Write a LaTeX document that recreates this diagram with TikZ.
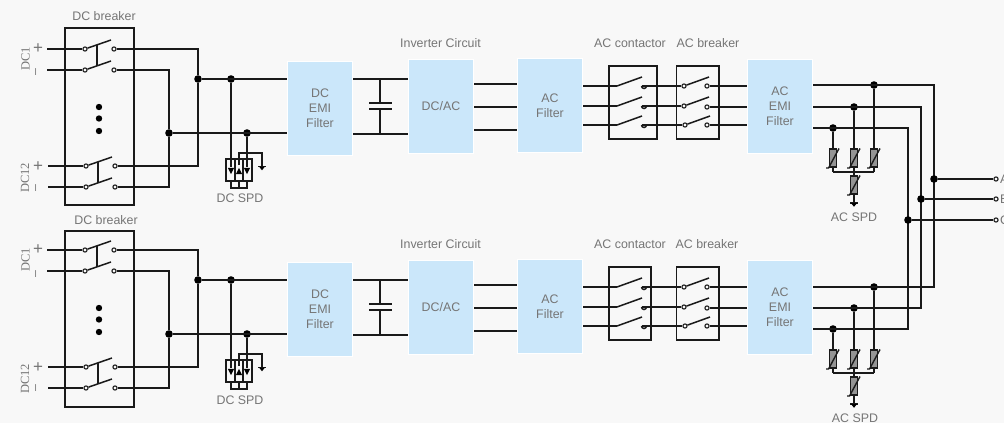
\documentclass[tikz,border=0pt]{standalone}
\usepackage{fontspec}
\setmainfont{Liberation Sans}
\newfontfamily\serifface{Liberation Serif}
\definecolor{pagebg}{HTML}{F8F8F8}
\definecolor{boxblue}{HTML}{CBE7FA}
\definecolor{labelgray}{HTML}{757575}
\definecolor{wirecol}{HTML}{1A1A1A}
\tikzset{
  wire/.style={draw=wirecol,line width=1.5pt,line join=miter},
  frame/.style={draw=wirecol,line width=1.4pt,fill=none,rectangle,inner sep=0pt},
  filterbox/.style={rectangle,fill=boxblue,draw=white,line width=1pt,minimum width=65pt,minimum height=94pt,
    inner sep=0pt,align=center,text=labelgray,font=\fontsize{12.4}{15}\selectfont},
  lbl/.style={text=labelgray,inner sep=0pt,font=\fontsize{12.4}{15}\selectfont},
  dclbl/.style={text=labelgray,inner sep=0pt,rotate=90,font=\fontsize{12.5}{15}\serifface},
  plbl/.style={text=labelgray,inner sep=0pt,font=\fontsize{17}{15}\selectfont},
  term/.style={circle,draw=wirecol,fill=pagebg,line width=1.1pt,minimum size=4.2pt,inner sep=0pt},
  jdot/.style={circle,fill=black,draw=none,minimum size=7.6pt,inner sep=0pt},
  smalldot/.style={circle,fill=black,draw=none,minimum size=6.4pt,inner sep=0pt},
  varistor/.pic={
    \fill[fill=black!42,draw=wirecol,line width=1.1pt] (-3.2,-9) rectangle (3.2,9);
    \draw[draw=wirecol,line width=1.4pt] (-7,10) -- (-4.5,10) -- (6,-9.5);
  },
  gndmark/.pic={
    \draw[draw=wirecol,line width=1.3pt] (-4,0) -- (4,0);
    \fill[black] (-3,0) -- (3,0) -- (0,3.8) -- cycle;
  },
  downtri/.pic={\fill[black] (-3.2,-3.2) -- (3.2,-3.2) -- (0,3.2) -- cycle;},
  uptri/.pic={\fill[black] (-3.2,3.2) -- (3.2,3.2) -- (0,-3.2) -- cycle;},
}
% DC pole: name, x nudge, row y
\newcommand{\dcpole}[3]{%
  \coordinate (#1I) at (47+#2,#3);
  \node[term] (#1L) at (85+#2,#3) {};
  \node[term] (#1R) at (114+#2,#3) {};
  \coordinate (#1B) at (111+#2,#3-9);
  \draw[wire] (#1I) -- (#1L);
  \draw[wire] (#1L) -- (#1B);
}
% AC pole: name, row y, breaker x nudge, blade x nudge
\newcommand{\acpole}[4]{%
  \coordinate (#1C) at (617,#2);
  \coordinate (#1D) at (642,#2-9);
  \coordinate (#1E) at (641.5,#2);
  \node[term] (#1L) at (684+#3,#2) {};
  \node[term] (#1R) at (707,#2+#4) {};
  \coordinate (#1B) at (709+#3,#2-9);
  \draw[wire] (#1E) arc[start angle=180,end angle=0,radius=2.5];
  \draw[wire] (#1E) -- (#1L);
  \draw[wire] (#1L) -- (#1B);
  \draw[wire] (#1C) -- (#1D);
}
% one inverter chain: prefix, shift, breaker box top, bottom, contactor right edge, first AC output row
\newcommand{\chain}[6]{%
\begin{scope}[yshift=-#2pt]
  % DC breaker
  \node[frame,minimum width=69pt,minimum height=#4-#3] (#1dcb) at (99.5,#3/2+#4/2) {};
  \dcpole{#1a}{0}{49}
  \dcpole{#1b}{0}{70}
  \dcpole{#1c}{1}{166}
  \dcpole{#1d}{1}{187}
  \coordinate (#1ku) at (97,45);
  \coordinate (#1kv) at (97,66);
  \coordinate (#1ks) at (98,162);
  \coordinate (#1kt) at (98,183);
  \draw[wire] (#1ku) -- (#1kv);
  \draw[wire] (#1ks) -- (#1kt);
  \node[smalldot] (#1e1) at (99,107) {};
  \node[smalldot] (#1e2) at (99,118.5) {};
  \node[smalldot] (#1e3) at (99,131) {};
  % filters
  \node[filterbox] (#1emi) at (320,108.5) {DC\\EMI\\Filter};
  \node[filterbox] (#1inv) at (441,106.5) {DC/AC};
  \node[filterbox] (#1acf) at (550,105.5) {AC\\Filter};
  \node[filterbox] (#1aem) at (780,106.5) {AC\\EMI\\Filter};
  % DC bus
  \node[jdot] (#1jp) at (198,79) {};
  \node[jdot] (#1jn) at (169,133) {};
  \node[jdot] (#1js) at (231,79) {};
  \node[jdot] (#1jt) at (247,133) {};
  \draw[wire] (#1aR) -| (#1jp);
  \draw[wire] (#1cR) -| (#1jp);
  \draw[wire] (#1bR) -| (#1jn);
  \draw[wire] (#1dR) -| (#1jn);
  \draw[wire] (#1jp) -- (#1jp -| #1emi.west);
  \draw[wire] (#1jn) -- (#1jn -| #1emi.west);
  % DC SPD
  \node[frame,minimum width=26pt,minimum height=22pt] (#1spd) at (239,170) {};
  \coordinate (#1sa) at (235,159);
  \coordinate (#1sb) at (235,181);
  \coordinate (#1sc) at (243,159);
  \coordinate (#1sd) at (243,181);
  \draw[wire] (#1sa) -- (#1sb);
  \draw[wire] (#1sc) -- (#1sd);
  \coordinate (#1se) at (231,188);
  \coordinate (#1sf) at (247,188);
  \coordinate (#1sg) at (231,181);
  \coordinate (#1sh) at (247,181);
  \coordinate (#1si) at (239,181);
  \coordinate (#1sj) at (239,188);
  \draw[wire] (#1sg) -- (#1se) -- (#1sf) -- (#1sh);
  \draw[wire] (#1si) -- (#1sj);
  \coordinate (#1sk) at (231,167);
  \coordinate (#1sl) at (247,167);
  \draw[wire] (#1js) -- (#1sk);
  \draw[wire] (#1jt) -- (#1sl);
  \pic at (231,171) {downtri};
  \pic at (239,171) {uptri};
  \pic at (247,171) {downtri};
  \coordinate (#1sm) at (239,165);
  \coordinate (#1sn) at (239,153);
  \coordinate (#1so) at (262,153);
  \coordinate (#1sp) at (262,166.5);
  \draw[wire] (#1sm) -- (#1sn) -- (#1so) -- (#1sp);
  \pic at (262,166.5) {gndmark};
  % capacitor
  \coordinate (#1ca) at (380,79);
  \coordinate (#1cb) at (380,103);
  \coordinate (#1cc) at (380,109);
  \coordinate (#1cd) at (380,134);
  \coordinate (#1ce) at (369,103);
  \coordinate (#1cf) at (392,103);
  \coordinate (#1cg) at (369,109);
  \coordinate (#1ch) at (392,109);
  \draw[wire] (#1ca -| #1emi.east) -- (#1ca -| #1inv.west);
  \draw[wire] (#1cd -| #1emi.east) -- (#1cd -| #1inv.west);
  \draw[wire] (#1ca) -- (#1cb);
  \draw[wire] (#1cc) -- (#1cd);
  \draw[wire] (#1ce) -- (#1cf);
  \draw[wire] (#1cg) -- (#1ch);
  % inverter to AC filter
  \coordinate (#1i1) at (496,84);
  \coordinate (#1i2) at (496,107);
  \coordinate (#1i3) at (496,130);
  \draw[wire] (#1i1 -| #1inv.east) -- (#1i1 -| #1acf.west);
  \draw[wire] (#1i2 -| #1inv.east) -- (#1i2 -| #1acf.west);
  \draw[wire] (#1i3 -| #1inv.east) -- (#1i3 -| #1acf.west);
  % contactor and breaker
  \node[frame,minimum width=#5-609,minimum height=73pt] (#1ctr) at (609/2+#5/2,102.5) {};
  \node[frame,minimum width=42.5pt,minimum height=73pt] (#1brk) at (697.75,102.5) {};
  \acpole{#1p}{86}{0}{0}
  \acpole{#1q}{106}{0}{1}
  \acpole{#1r}{125}{1}{0}
  \draw[wire] (#1pC -| #1acf.east) -- (#1pC);
  \draw[wire] (#1qC -| #1acf.east) -- (#1qC);
  \draw[wire] (#1rC -| #1acf.east) -- (#1rC);
  \draw[wire] (#1pR) -- (#1pR -| #1aem.west);
  \draw[wire] (#1qR) -- (#1qR -| #1aem.west);
  \draw[wire] (#1rR) -- (#1rR -| #1aem.west);
  % AC side
  \node[jdot] (#1j1) at (874,#6) {};
  \node[jdot] (#1j2) at (854,107) {};
  \node[jdot] (#1j3) at (833,128) {};
  \coordinate (#1v1) at (934,#6);
  \coordinate (#1v2) at (921,107);
  \coordinate (#1v3) at (908,128);
  \coordinate (#1m1) at (874,172);
  \coordinate (#1m2) at (854,172);
  \coordinate (#1m3) at (833,172);
  \coordinate (#1m4) at (854,203);
  \draw[wire] (#1j1) -- (#1m1);
  \draw[wire] (#1j2) -- (#1m4);
  \draw[wire] (#1j3) -- (#1m3);
  \draw[wire] (#1m3) -- (#1m1);
  \pic at (833,158) {varistor};
  \pic at (854,158) {varistor};
  \pic at (874,158) {varistor};
  \pic at (854,185) {varistor};
  \pic at (854,203) {gndmark};
\end{scope}}
\begin{document}
\begin{tikzpicture}[x=1pt,y=-1pt]
\fill[pagebg] (0,0) rectangle (1004,423);
\useasboundingbox (0,0) rectangle (1004,423);
\chain{T}{0}{28}{205}{657}{85}
\chain{U}{201}{30}{206}{651}{86}
% three-phase output
\draw[wire] (Taem.east |- Tv1) -- (Tv1) -- (Uv1) -- (Uaem.east |- Uv1);
\draw[wire] (Taem.east |- Tv2) -- (Tv2) -- (Uv2) -- (Uaem.east |- Uv2);
\draw[wire] (Taem.east |- Tv3) -- (Tv3) -- (Uv3) -- (Uaem.east |- Uv3);
\node[jdot] (outA) at (934,179) {};
\node[jdot] (outB) at (921,199) {};
\node[jdot] (outC) at (908,220) {};
\node[term] (tA) at (996,179) {};
\node[term] (tB) at (996,199) {};
\node[term] (tC) at (996,220) {};
\draw[wire] (outA) -- (tA);
\draw[wire] (outB) -- (tB);
\draw[wire] (outC) -- (tC);
\node[lbl,anchor=west] (lA) at (1000,179) {A};
\node[lbl,anchor=west] (lB) at (1000,199) {B};
\node[lbl,anchor=west] (lC) at (1000,220) {C};
% labels
\node[lbl] (n1) at (104,16) {DC breaker};
\node[lbl] (n2) at (106,220) {DC breaker};
\node[lbl] (n3) at (240,198) {DC SPD};
\node[lbl] (n4) at (240,400) {DC SPD};
\node[lbl] (n5) at (440.5,43) {Inverter Circuit};
\node[lbl] (n6) at (440.5,244) {Inverter Circuit};
\node[lbl] (n7) at (630,43) {AC contactor};
\node[lbl] (n8) at (630,244) {AC contactor};
\node[lbl] (n9) at (708,43) {AC breaker};
\node[lbl] (n10) at (707,244) {AC breaker};
\node[lbl] (n11) at (854,217) {AC SPD};
\node[lbl] (n12) at (855,418) {AC SPD};
\node[dclbl] (d1) at (25.5,59) {DC1};
\node[dclbl] (d2) at (25,178) {DC12};
\node[dclbl] (d3) at (25.5,260) {DC1};
\node[dclbl] (d4) at (25,379) {DC12};
\node[plbl] (s1) at (38,48.5) {+};
\node[plbl] (s2) at (38,166.5) {+};
\node[plbl] (s3) at (38,249.5) {+};
\node[plbl] (s4) at (38,368) {+};
\node[lbl,rotate=90] (s5) at (37,72) {–};
\node[lbl,rotate=90] (s6) at (37,188) {–};
\node[lbl,rotate=90] (s7) at (37,274) {–};
\node[lbl,rotate=90] (s8) at (37,388) {–};
\end{tikzpicture}
\end{document}
